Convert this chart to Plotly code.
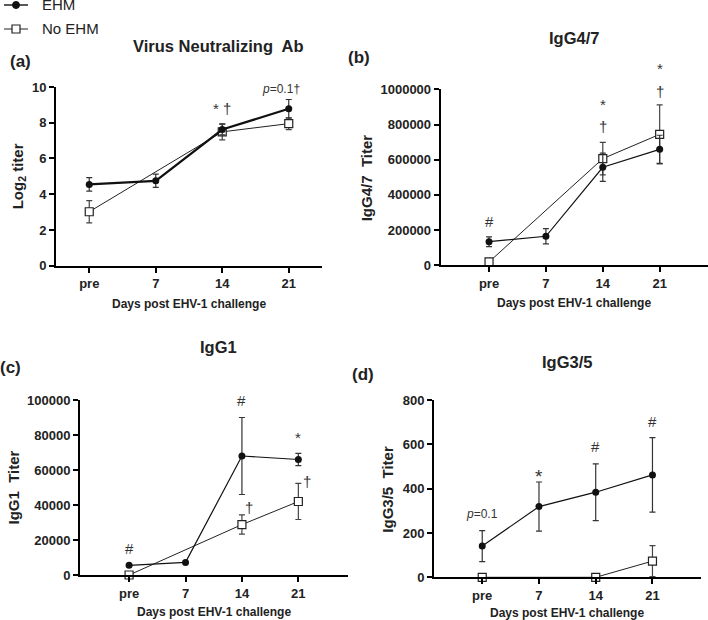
import plotly.graph_objects as go

W, H = 708, 620

days = ["pre", "7", "14", "21"]
xpos = [0, 1, 2, 3]

# (a) virus neutralizing Ab, log2 titer
vn_ehm = [4.55, 4.75, 7.62, 8.78]
vn_ehm_err = [0.38, 0.37, 0.30, 0.52]
vn_no = [3.02, None, 7.49, 7.95]
vn_no_err = [0.62, 0, 0.45, 0.33]

# (b) IgG4/7
g47_ehm = [134000, 165000, 557000, 659000]
g47_ehm_err = [28000, 43000, 80000, 80000]
g47_no = [19000, None, 606000, 744000]
g47_no_err = [5000, 0, 92000, 168000]

# (c) IgG1
g1_ehm = [5500, 7200, 68000, 66000]
g1_ehm_err = [0, 0, 22000, 3500]
g1_no = [0, None, 28800, 42000]
g1_no_err = [0, 0, 5500, 10300]

# (d) IgG3/5
g35_ehm = [141, 319, 384, 462]
g35_ehm_err = [70, 111, 128, 168]
g35_no = [0, None, 0, 73]
g35_no_err = [0, 0, 0, 70]

FONT = "Arial, Liberation Sans, sans-serif"

# pixel boxes of each panel: left, right, top, bottom
panels = [
    dict(ax="", box=(56, 322, 87, 265.7), xr=[-0.5, 3.5], ymax=10, dtick=2,
         ehm=vn_ehm, ehm_err=vn_ehm_err, no=vn_no, no_err=vn_no_err,
         title="Virus Neutralizing  Ab", tx=218, ty=46, lab="(a)", lx=20, ly=61,
         ytitle="Log<sub>2</sub> titer", ytx=18, xtx_y=304, ehm_w=2.2),
    dict(ax="2", box=(440.7, 708, 89.3, 265.3), xr=[-0.85, 3.85], ymax=1000000, dtick=200000,
         ehm=g47_ehm, ehm_err=g47_ehm_err, no=g47_no, no_err=g47_no_err,
         title="IgG4/7", tx=574, ty=38, lab="(b)", lx=359, ly=58,
         ytitle="IgG4/7  Titer", ytx=366, xtx_y=303, ehm_w=1.2),
    dict(ax="3", box=(80, 348, 400, 575), xr=[-0.87, 3.88], ymax=100000, dtick=20000,
         ehm=g1_ehm, ehm_err=g1_ehm_err, no=g1_no, no_err=g1_no_err,
         title="IgG1", tx=218, ty=347, lab="(c)", lx=10, ly=367,
         ytitle="IgG1  Titer", ytx=13, xtx_y=612, ehm_w=1.2),
    dict(ax="4", box=(434, 700.7, 400, 577.3), xr=[-0.85, 3.85], ymax=800, dtick=200,
         ehm=g35_ehm, ehm_err=g35_ehm_err, no=g35_no, no_err=g35_no_err,
         title="IgG3/5", tx=567, ty=362, lab="(d)", lx=363, ly=374,
         ytitle="IgG3/5  Titer", ytx=388, xtx_y=613, ehm_w=1.2),
]

# significance marks: panel index, x index, y value, text, x shift px, size
marks = [
    (0, 2, 8.8, "* †", 0, 15),
    (0, 3, 9.87, "<i>p</i>=0.1†", -8, 12),
    (1, 0, 248000, "#", 0, 15),
    (1, 2, 916000, "*", 0, 15),
    (1, 2, 787000, "†", 0, 15),
    (1, 3, 1119000, "*", 0, 15),
    (1, 3, 986000, "†", 0, 15),
    (2, 0, 15300, "#", 0, 15),
    (2, 2, 100000, "#", 0, 15),
    (2, 2, 38300, "†", 7, 15),
    (2, 3, 78700, "*", 0, 15),
    (2, 3, 53700, "†", 9, 15),
    (3, 0, 284, "<i>p</i>=0.1", 0, 12),
    (3, 1, 454, "*", 0, 19),
    (3, 2, 589, "#", 0, 15),
    (3, 3, 702, "#", 0, 15),
]


def note(x, y, text, size, bold=False, **kw):
    d = dict(x=x, y=y, text=text, showarrow=False, xanchor="center", yanchor="middle",
             font=dict(family=FONT, size=size, color="#222",
                       weight="bold" if bold else "normal"))
    d.update(kw)
    return d


fig = go.Figure()
annotations = []
shapes = []
layout = {}

for i, p in enumerate(panels):
    l, r, t, b = p["box"]
    xa, ya = "x" + p["ax"], "y" + p["ax"]
    fig.add_trace(go.Scatter(
        x=xpos, y=p["no"], xaxis=xa, yaxis=ya, name="No EHM",
        mode="lines+markers", connectgaps=True, cliponaxis=False,
        line=dict(color="#222", width=1),
        marker=dict(symbol="square", size=8, color="white", line=dict(color="#222", width=1.2)),
        error_y=dict(type="data", array=p["no_err"], color="#444", thickness=1.2, width=3)))
    fig.add_trace(go.Scatter(
        x=xpos, y=p["ehm"], xaxis=xa, yaxis=ya, name="EHM",
        mode="lines+markers", cliponaxis=False,
        line=dict(color="#111", width=p["ehm_w"]),
        marker=dict(symbol="circle", size=7, color="#111"),
        error_y=dict(type="data", array=p["ehm_err"], color="#333", thickness=1.2, width=3)))
    layout["xaxis" + p["ax"]] = dict(
        domain=[l / W, r / W], anchor=ya, range=p["xr"], tickvals=xpos, ticktext=days,
        showline=True, linecolor="black", linewidth=2, ticks="outside", ticklen=5,
        tickwidth=1.5, tickcolor="black", showgrid=False, zeroline=False, automargin=False,
        tickfont=dict(family=FONT, size=13, color="#222", weight="bold"))
    layout["yaxis" + p["ax"]] = dict(
        domain=[1 - b / H, 1 - t / H], anchor=xa, range=[0, p["ymax"]], dtick=p["dtick"],
        tickformat="d", showline=True, linecolor="black", linewidth=2, ticks="outside",
        ticklen=5, tickwidth=1.5, tickcolor="black", showgrid=False, zeroline=False,
        automargin=False,
        tickfont=dict(family=FONT, size=13, color="#222", weight="bold"))
    annotations += [
        note(p["tx"] / W, 1 - p["ty"] / H, p["title"], 16.5, True, xref="paper", yref="paper"),
        note(p["lx"] / W, 1 - p["ly"] / H, p["lab"], 17, True, xref="paper", yref="paper"),
        note(p["ytx"] / W, 1 - (t + b) / 2 / H, p["ytitle"], 15, True,
             xref="paper", yref="paper", textangle=-90),
        note((l + r) / 2 / W, 1 - p["xtx_y"] / H, "Days post EHV-1 challenge", 12, True,
             xref="paper", yref="paper"),
    ]

for pi, xi, yv, txt, xs, sz in marks:
    p = panels[pi]
    a = note(xpos[xi], yv / p["ymax"], txt, sz, xref="x" + p["ax"],
             yref="y" + p["ax"] + " domain", xshift=xs)
    a["font"]["color"] = "#333"
    annotations.append(a)

# hand-drawn legend in the top-left corner
for name, ly, sym in [("EHM", 5, "circle"), ("No EHM", 29, "square")]:
    yy = 1 - ly / H
    shapes.append(dict(type="line", xref="paper", yref="paper", x0=4 / W, x1=28 / W,
                       y0=yy, y1=yy, line=dict(color="#222", width=1.5 if sym == "circle" else 1)))
    if sym == "circle":
        shapes.append(dict(type="circle", xref="paper", yref="paper",
                           x0=12.5 / W, x1=19.5 / W, y0=yy - 3.5 / H, y1=yy + 3.5 / H,
                           fillcolor="#111", line=dict(color="#111", width=1)))
    else:
        shapes.append(dict(type="rect", xref="paper", yref="paper",
                           x0=12 / W, x1=20 / W, y0=yy - 4 / H, y1=yy + 4 / H,
                           fillcolor="white", line=dict(color="#222", width=1.2)))
    annotations.append(note(40 / W, yy, name, 15, xref="paper", yref="paper", xanchor="left"))

fig.update_layout(
    width=W, height=H, autosize=False,
    margin=dict(l=0, r=0, t=0, b=0, pad=0, autoexpand=False),
    paper_bgcolor="white", plot_bgcolor="white",
    showlegend=False,
    annotations=annotations, shapes=shapes,
    **layout)

fig.write_html("out.html", config={"displayModeBar": False},
               post_script="document.body.style.margin='0';")
